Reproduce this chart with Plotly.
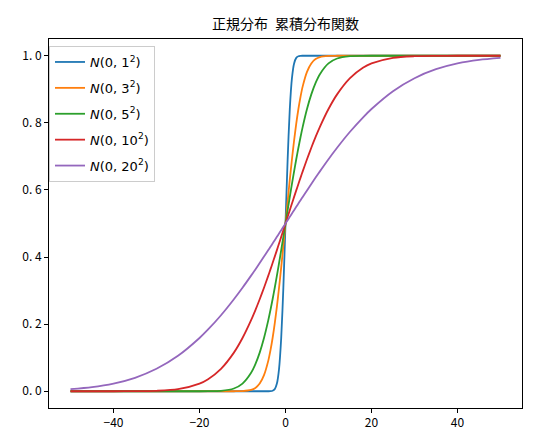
import plotly.graph_objects as go

# * x grid (shared by all curves)
x_vals = [-50, -45, -40, -35, -30, -25, -20, -18, -15, -12, -10, -8, -7, -6, -5, -4, -3.5, -3, -2.5, -2, -1.5, -1, -0.5,
          0,
          0.5, 1, 1.5, 2, 2.5, 3, 3.5, 4, 5, 6, 7, 8, 10, 12, 15, 18, 20, 25, 30, 35, 40, 45, 50]

# * cumulative values, one list per sigma
cdf_s1 = [0.0, 0.0, 0.0, 0.0, 0.0, 0.0, 0.0, 0.0, 0.0, 0.0, 0.0, 0.0, 0.0, 0.0, 0.0, 0.0, 0.0002, 0.0013, 0.0062, 0.0228, 0.0668, 0.1587, 0.3085,
          0.5,
          0.6915, 0.8413, 0.9332, 0.9772, 0.9938, 0.9987, 0.9998, 1.0, 1.0, 1.0, 1.0, 1.0, 1.0, 1.0, 1.0, 1.0, 1.0, 1.0, 1.0, 1.0, 1.0, 1.0, 1.0]
cdf_s3 = [0.0, 0.0, 0.0, 0.0, 0.0, 0.0, 0.0, 0.0, 0.0, 0.0, 0.0004, 0.0038, 0.0098, 0.0228, 0.0478, 0.0912, 0.1217, 0.1587, 0.2023, 0.2525, 0.3085, 0.3694, 0.4338,
          0.5,
          0.5662, 0.6306, 0.6915, 0.7475, 0.7977, 0.8413, 0.8783, 0.9088, 0.9522, 0.9772, 0.9902, 0.9962, 0.9996, 1.0, 1.0, 1.0, 1.0, 1.0, 1.0, 1.0, 1.0, 1.0, 1.0]
cdf_s5 = [0.0, 0.0, 0.0, 0.0, 0.0, 0.0, 0.0, 0.0002, 0.0013, 0.0082, 0.0228, 0.0548, 0.0808, 0.1151, 0.1587, 0.2119, 0.2420, 0.2743, 0.3085, 0.3446, 0.3821, 0.4207, 0.4602,
          0.5,
          0.5398, 0.5793, 0.6179, 0.6554, 0.6915, 0.7257, 0.7580, 0.7881, 0.8413, 0.8849, 0.9192, 0.9452, 0.9772, 0.9918, 0.9987, 0.9998, 1.0, 1.0, 1.0, 1.0, 1.0, 1.0, 1.0]
cdf_s10 = [0.0, 0.0, 0.0, 0.0002, 0.0013, 0.0062, 0.0228, 0.0359, 0.0668, 0.1151, 0.1587, 0.2119, 0.2420, 0.2743, 0.3085, 0.3446, 0.3632, 0.3821, 0.4013, 0.4207, 0.4404, 0.4602, 0.4801,
           0.5,
           0.5199, 0.5398, 0.5596, 0.5793, 0.5987, 0.6179, 0.6368, 0.6554, 0.6915, 0.7257, 0.7580, 0.7881, 0.8413, 0.8849, 0.9332, 0.9641, 0.9772, 0.9938, 0.9987, 0.9998, 1.0, 1.0, 1.0]
cdf_s20 = [0.0062, 0.0122, 0.0228, 0.0401, 0.0668, 0.1056, 0.1587, 0.1841, 0.2266, 0.2743, 0.3085, 0.3446, 0.3632, 0.3821, 0.4013, 0.4207, 0.4305, 0.4404, 0.4503, 0.4602, 0.4701, 0.4801, 0.4900,
           0.5,
           0.5100, 0.5199, 0.5299, 0.5398, 0.5497, 0.5596, 0.5695, 0.5793, 0.5987, 0.6179, 0.6368, 0.6554, 0.6915, 0.7257, 0.7734, 0.8159, 0.8413, 0.8944, 0.9332, 0.9599, 0.9772, 0.9878, 0.9938]

series_names = [
    "<i>N</i>(0, 1<sup>2</sup>)",
    "<i>N</i>(0, 3<sup>2</sup>)",
    "<i>N</i>(0, 5<sup>2</sup>)",
    "<i>N</i>(0, 10<sup>2</sup>)",
    "<i>N</i>(0, 20<sup>2</sup>)",
]
series_vals = [cdf_s1, cdf_s3, cdf_s5, cdf_s10, cdf_s20]
colors = ["#1f77b4", "#ff7f0e", "#2ca02c", "#d62728", "#9467bd"]

x_ticks = [-40, -20, 0, 20, 40]
y_ticks = [0.0, 0.2, 0.4, 0.6, 0.8, 1.0]
y_tick_text = ["0. 0", "0. 2", "0. 4", "0. 6", "0. 8", "1. 0"]

FONT = "Noto Sans CJK JP"

fig = go.Figure()
for i, (name, vals, col) in enumerate(zip(series_names, series_vals, colors)):
    # * one group per trace so tracegroupgap spaces the legend rows like matplotlib
    fig.add_trace(go.Scatter(x=x_vals, y=vals, mode="lines", name=name, legendgroup=f"g{i}",
                             line=dict(color=col, width=1.8, shape="spline", smoothing=0.8)))

fig.update_layout(
    width=546,
    height=433,
    margin=dict(l=41, r=32, t=31, b=33),
    paper_bgcolor="white",
    plot_bgcolor="white",
    font=dict(family=FONT, size=12, color="black"),
    title=dict(text="正規分布\u2002累積分布関数", x=0.5, xref="paper", xanchor="center",
               y=1 - 16 / 433, yref="container", yanchor="middle",
               font=dict(family=FONT, size=14, color="black")),
    legend=dict(x=0.0, y=0.981, xanchor="left", yanchor="top", traceorder="grouped",
                bgcolor="rgba(255,255,255,0.8)", bordercolor="#cccccc", borderwidth=1,
                font=dict(family="DejaVu Sans", size=13), itemwidth=30, tracegroupgap=6),
    showlegend=True,
)

axis_style = dict(showgrid=False, zeroline=False, showline=True, linecolor="black", linewidth=1,
                  mirror=True, ticks="outside", ticklen=4, tickcolor="black",
                  tickfont=dict(family=FONT, size=12, color="black"))
fig.update_xaxes(range=[-55, 55], tickvals=x_ticks, ticktext=[str(t).replace("-", "\u2212") for t in x_ticks], **axis_style)
fig.update_yaxes(range=[-0.05, 1.05], tickvals=y_ticks, ticktext=y_tick_text, **axis_style)

fig.write_html("out.html")
